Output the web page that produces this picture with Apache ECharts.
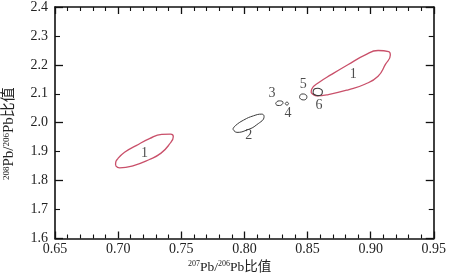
<!DOCTYPE html>
<html><head><meta charset="utf-8">
<script src="https://cdn.jsdelivr.net/npm/echarts@6/dist/echarts.min.js"></script>
<style>html,body{margin:0;padding:0;background:#fff}#c{width:449px;height:280px}</style>
</head><body><div id="c"></div>
<script>
// x tick labels / y tick labels
const xTicks = [0.65, 0.70, 0.75, 0.80, 0.85, 0.90, 0.95];
const yTicks = [1.6, 1.7, 1.8, 1.9, 2.0, 2.1, 2.2, 2.3, 2.4];

// Outline traces of each field (207Pb/206Pb, 208Pb/206Pb)
const field1Left = [[0.698,1.852],[0.7012,1.844],[0.7117,1.851],[0.7248,1.873],[0.734,1.895],[0.7405,1.925],[0.7437,1.952],[0.7415,1.961],[0.7345,1.960],[0.7248,1.945],[0.7143,1.921],[0.7051,1.898],[0.6998,1.876],[0.698,1.860],[0.698,1.852]];
const field1Right = [[0.8529,2.104],[0.8573,2.093],[0.8665,2.0975],[0.8823,2.114],[0.8954,2.133],[0.9059,2.161],[0.9117,2.2015],[0.9156,2.234],[0.9143,2.246],[0.9059,2.2496],[0.8954,2.2335],[0.8823,2.2015],[0.8691,2.167],[0.8587,2.138],[0.8534,2.117],[0.8529,2.104]];
const field2 = [[0.7909,1.9783],[0.7941,1.9667],[0.802,1.9749],[0.8098,1.9931],[0.8156,2.022],[0.8138,2.0298],[0.8072,2.024],[0.7994,2.0092],[0.7928,1.9896],[0.7909,1.9783]];
const field3 = [[0.8248,2.0656],[0.8257,2.0606],[0.8277,2.0596],[0.8297,2.0626],[0.8306,2.0696],[0.8297,2.0746],[0.8277,2.0756],[0.8257,2.0726],[0.8248,2.0656]];
const field4 = [[0.8324,2.0662],[0.8328,2.0628],[0.8337,2.0614],[0.8346,2.0628],[0.8350,2.0662],[0.8346,2.0696],[0.8337,2.0710],[0.8328,2.0696],[0.8324,2.0662]];
const field5 = [[0.8437,2.0872],[0.8445,2.0822],[0.8466,2.0789],[0.8487,2.0812],[0.8495,2.0912],[0.8487,2.0962],[0.8466,2.0995],[0.8445,2.0972],[0.8437,2.0872]];
const field6 = [[0.8544,2.1044],[0.8554,2.0974],[0.8581,2.0937],[0.8608,2.0964],[0.8618,2.1084],[0.8608,2.1154],[0.8581,2.1191],[0.8554,2.1164],[0.8544,2.1044]];

// field labels
const labelNames = ['1','1','2','3','4','5','6'];
const labelX = [0.7209, 0.8862, 0.8035, 0.8219, 0.8345, 0.8466, 0.8592];
const labelY = [1.8935, 2.1682, 1.9577, 2.1019, 2.0333, 2.1328, 2.0618];

const serif = "'Liberation Serif','Noto Sans CJK SC',serif";
const red = '#c9506a', gray = '#3a3a3a';

function outline(data, color, w) {
  return {type:'line', data:data, smooth:0.5, symbol:'none', silent:true,
    lineStyle:{color:color, width:w}, xAxisIndex:0, yAxisIndex:0};
}
const xCommon = {type:'value', min:xTicks[0], max:xTicks[xTicks.length-1], interval:0.05,
  axisLine:{show:true, lineStyle:{color:'#111', width:1.6}},
  axisTick:{show:true, inside:true, length:7, lineStyle:{color:'#111', width:1.3}},
  minorTick:{show:true, splitNumber:5, length:4, lineStyle:{color:'#111', width:1.1}},
  splitLine:{show:false}};
const yCommon = {type:'value', min:yTicks[0], max:yTicks[yTicks.length-1], interval:0.2,
  axisLine:{show:true, lineStyle:{color:'#111', width:1.6}},
  axisTick:{show:true, inside:true, length:8, lineStyle:{color:'#111', width:1.3}},
  minorTick:{show:true, splitNumber:2, length:5, lineStyle:{color:'#111', width:1.1}},
  splitLine:{show:false}, axisLabel:{show:false}};

const chart = echarts.init(document.getElementById('c'), null, {renderer:'canvas'});
chart.setOption({
  animation:false,
  backgroundColor:'#fff',
  grid:{left:55, right:13, top:5.5, bottom:41.5},
  xAxis:[
    Object.assign({}, xCommon, {position:'bottom',
      axisLabel:{show:true, margin:4, formatter:v=>v.toFixed(2), fontFamily:serif, fontSize:14, color:'#222'}}),
    Object.assign({}, xCommon, {position:'top', axisLabel:{show:false}})
  ],
  yAxis:[
    Object.assign({}, yCommon, {position:'left'}),
    {type:'value', position:'left', min:yTicks[0], max:yTicks[yTicks.length-1], interval:0.1,
      axisLine:{show:false}, axisTick:{show:false}, splitLine:{show:false},
      axisLabel:{show:true, margin:7, formatter:v=>v.toFixed(1), fontFamily:serif, fontSize:14, color:'#222'}},
    Object.assign({}, yCommon, {position:'right'})
  ],
  series:[
    outline(field1Left, red, 1.3),
    outline(field1Right, red, 1.3),
    outline(field2, gray, 1),
    outline(field3, gray, 1),
    outline(field4, gray, 1),
    outline(field5, gray, 1),
    outline(field6, gray, 1.1),
    {type:'scatter', symbolSize:0, silent:true, xAxisIndex:0, yAxisIndex:0,
      data: labelNames.map((n,i)=>({name:n, value:[labelX[i], labelY[i]]})),
      label:{show:true, position:'inside', formatter:p=>p.name, fontFamily:serif, fontSize:14, color:'#222'}}
  ],
  graphic:[
    {type:'text', left:188, top:260,
      style:{text:'{s|207}{n|Pb/}{s|206}{n|Pb比值}', rich:{
        s:{fontSize:8, fontFamily:serif, fill:'#222', verticalAlign:'top', lineHeight:14},
        n:{fontSize:13.5, fontFamily:serif, fill:'#222', lineHeight:14}}}},
    {type:'text', x:2, y:180, rotation:Math.PI/2,
      style:{text:'{s|208}{n|Pb/}{s|206}{n|Pb比值}', rich:{
        s:{fontSize:9, fontFamily:serif, fill:'#222', verticalAlign:'top', lineHeight:15},
        n:{fontSize:15, fontFamily:serif, fill:'#222', lineHeight:15}}}}
  ]
});
</script></body></html>
